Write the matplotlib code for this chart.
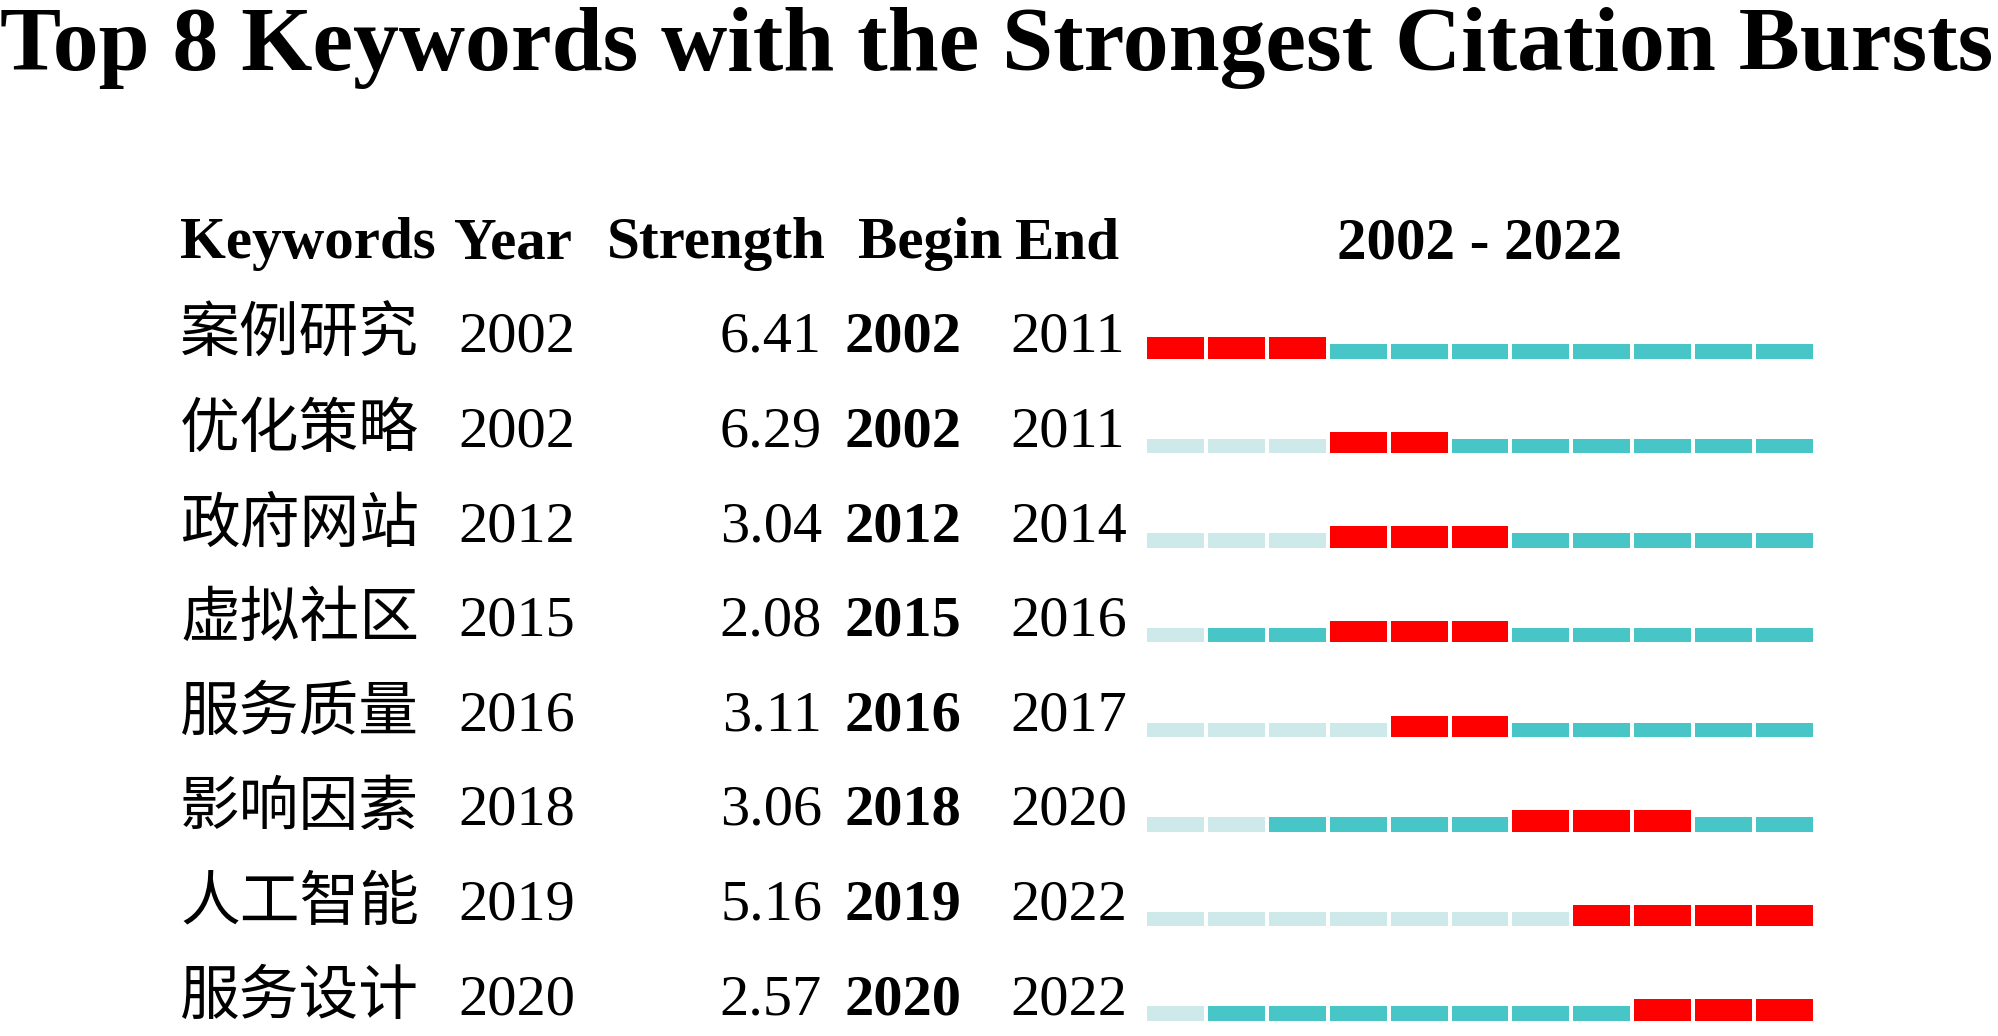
import matplotlib
matplotlib.use('Agg')
import matplotlib.pyplot as plt
import matplotlib.transforms as mtransforms

plt.rcParams['font.family'] = ['Liberation Serif', 'Noto Sans CJK SC']

keywords = ['案例研究', '优化策略', '政府网站', '虚拟社区', '服务质量', '影响因素', '人工智能', '服务设计']
years = [2002, 2002, 2012, 2015, 2016, 2018, 2019, 2020]
strengths = [6.41, 6.29, 3.04, 2.08, 3.11, 3.06, 5.16, 2.57]
begins = [2002, 2002, 2012, 2015, 2016, 2018, 2019, 2020]
ends = [2011, 2011, 2014, 2016, 2017, 2020, 2022, 2022]
# time slices (11 cells from 2002 to 2022)
first_slice = [0, 3, 3, 1, 4, 2, 7, 1]
burst_first = [0, 3, 3, 3, 4, 6, 7, 8]
burst_last = [2, 4, 5, 5, 5, 8, 10, 10]
n_slices = 11

W, H = 1999, 1036
fig = plt.figure(figsize=(W / 100, H / 100), dpi=100)

# bar area, rows spaced 94.6 px, first row bottom at 358.7 px
pitch = 94.6
row0 = 358.7
y_lo, y_hi = 7.15, -1.4
ax_bottom = 1 - (row0 + y_lo * pitch) / H
ax_top = 1 - (row0 + y_hi * pitch) / H
ax = fig.add_axes([1146.7 / W, ax_bottom, 666.6 / W, ax_top - ax_bottom])
ax.set_xlim(-0.4675, n_slices - 1 + 0.4675)
ax.set_ylim(y_lo, y_hi)
ax.axis('off')

red, teal, light = '#ff0000', '#48c5c6', '#cde9ea'
h_big, h_small = 21.4 / pitch, 14.4 / pitch
for r in range(len(keywords)):
    for i in range(n_slices):
        if burst_first[r] <= i <= burst_last[r]:
            c, h = red, h_big
        elif i >= first_slice[r]:
            c, h = teal, h_small
        else:
            c, h = light, h_small
        ax.bar(i, h, bottom=r - h, width=0.935, color=c, linewidth=0)

trans = mtransforms.blended_transform_factory(fig.transFigure, ax.transData)

# title
fig.text(0.4985, 1 - 70 / H, 'Top 8 Keywords with the Strongest Citation Bursts',
         ha='center', va='baseline', fontsize=66, fontweight='bold')

# header
hy = (258.3 - row0) / pitch
hsize = 42.5
ax.text(180 / W, hy, 'Keywords', transform=trans, fontsize=hsize, fontweight='bold', va='baseline')
ax.text(454 / W, hy, 'Year', transform=trans, fontsize=hsize, fontweight='bold', va='baseline')
ax.text(826 / W, hy, 'Strength', transform=trans, fontsize=hsize, fontweight='bold', va='baseline', ha='right')
ax.text(858 / W, hy, 'Begin', transform=trans, fontsize=hsize, fontweight='bold', va='baseline')
ax.text(1015 / W, hy, 'End', transform=trans, fontsize=hsize, fontweight='bold', va='baseline')
ax.text(0.5, hy, f'{begins[0]} - 2022', transform=mtransforms.blended_transform_factory(ax.transAxes, ax.transData),
        fontsize=hsize, fontweight='bold', va='baseline', ha='center')

# rows
off = 6.7 / pitch
for r in range(len(keywords)):
    y = r - off
    ax.text(180 / W, y, keywords[r], transform=trans, fontsize=43, va='baseline',
            family=['Noto Sans CJK SC'])
    ax.text(458 / W, y, str(years[r]), transform=trans, fontsize=42, va='baseline')
    ax.text(822 / W, y, f'{strengths[r]:.2f}', transform=trans, fontsize=42, va='baseline', ha='right')
    ax.text(845 / W, y, str(begins[r]), transform=trans, fontsize=42, va='baseline', fontweight='bold')
    ax.text(1010 / W, y, str(ends[r]), transform=trans, fontsize=42, va='baseline')

fig.savefig('out.png', dpi=100)
